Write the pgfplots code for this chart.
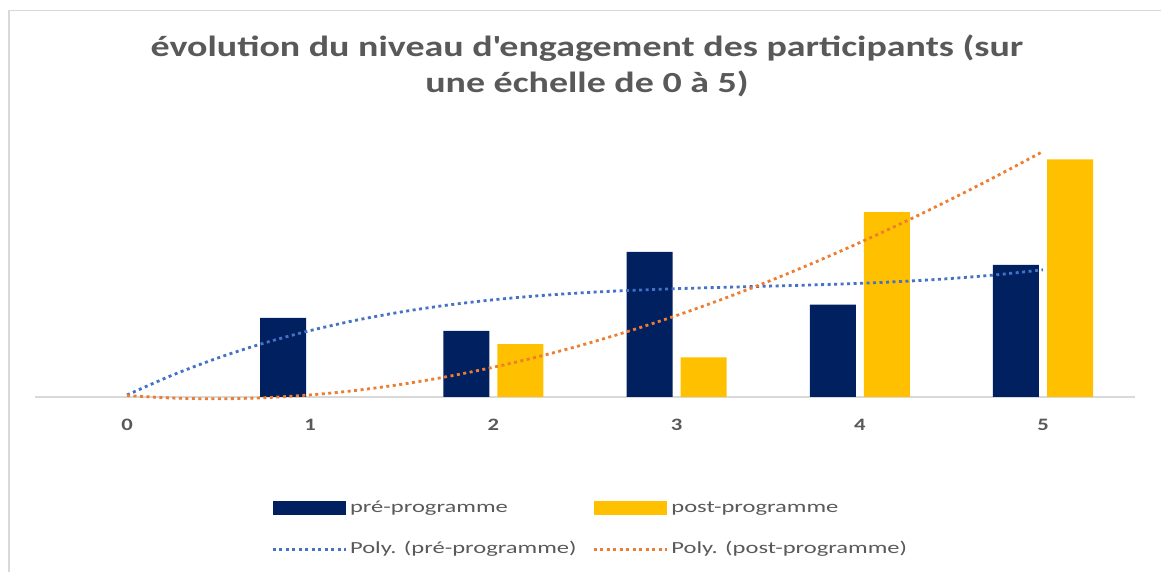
\documentclass[border=0pt]{standalone}
\usepackage{pgfplots}
\pgfplotsset{compat=1.18}
\usepackage{fontspec}
\setmainfont{Carlito}[FakeStretch=1.3]
\newfontfamily\legfont{Carlito}[FakeStretch=1.45]
\definecolor{navy}{HTML}{002060}
\definecolor{gold}{HTML}{FFC000}
\definecolor{tblue}{HTML}{4472C4}
\definecolor{torange}{HTML}{ED7D31}
\definecolor{txt}{HTML}{595959}
\definecolor{framec}{HTML}{D9D9D9}
\begin{document}
\begin{tikzpicture}[x=1bp,y=1bp]
\path[use as bounding box] (0,0) rectangle (1161,572);
\draw[framec, line width=1.5bp] (9,0) -- (9,561.5) -- (1161,561.5);
\node[anchor=base, text=txt, font=\fontsize{29.3}{35}\selectfont\bfseries, inner sep=0pt] at (587,515) {évolution du niveau d\textquotesingle engagement des participants (sur};
\node[anchor=base, text=txt, font=\fontsize{29.3}{35}\selectfont\bfseries, inner sep=0pt] at (587,479) {une échelle de 0 à 5)};
\begin{axis}[
  at={(35.4bp,175bp)}, anchor=south west,
  scale only axis, width=1099.2bp, height=257.4bp,
  xmin=-0.5, xmax=5.5, ymin=0, ymax=19.5,
  clip=false,
  axis y line=none,
  axis x line*=bottom,
  x axis line style={framec, line width=1.5bp, -},
  xtick={0,1,2,3,4,5},
  xticklabels={0,1,2,3,4,5},
  major tick length=0pt,
  xticklabel style={text=txt, font=\fontsize{17.5}{20}\selectfont\bfseries, yshift=-19bp},
  legend columns=2,
  legend cell align=left,
  legend style={at={(0.2144,-0.4002)}, anchor=north west, draw=none, fill=none,
    inner sep=0pt, font=\legfont\fontsize{17}{20}\selectfont, text=txt,
    cells={anchor=west},
    nodes={inner xsep=3bp, inner ysep=0pt, text height=12bp, text depth=4bp},
    row sep=25bp,
    /tikz/every even column/.append style={column sep=13bp}},
]
\addplot[ybar, bar width=0.251, bar shift=-0.1475, fill=navy, draw=none,
  legend image code/.code={\fill[navy] (0bp,-7bp) rectangle (73bp,7bp);}]
  coordinates {(1,6) (2,5) (3,11) (4,7) (5,10)};
\addlegendentry{pré-programme}
\addplot[ybar, bar width=0.251, bar shift=0.1475, fill=gold, draw=none,
  legend image code/.code={\fill[gold] (0bp,-7bp) rectangle (73bp,7bp);}]
  coordinates {(2,4) (3,3) (4,14) (5,18)};
\addlegendentry{post-programme}
\addplot[tblue, line width=2.8bp, dash pattern=on 3bp off 3.5bp, smooth, no marks,
  legend image code/.code={\draw[tblue, line width=2.8bp, dash pattern=on 3bp off 3.5bp] (0bp,0bp) -- (73bp,0bp);}]
  coordinates {(0,0.151) (0.25,1.668) (0.5,2.976) (0.75,4.092) (1,5.032) (1.25,5.813) (1.5,6.451) (1.75,6.963) (2,7.365) (2.25,7.674) (2.5,7.906) (2.75,8.078) (3,8.206) (3.25,8.307) (3.5,8.397) (3.75,8.493) (4,8.611) (4.25,8.768) (4.5,8.980) (4.75,9.263) (5,9.635)};
\addlegendentry{Poly. (pré-programme)}
\addplot[torange, line width=2.8bp, dash pattern=on 3bp off 3.5bp, smooth, no marks,
  legend image code/.code={\draw[torange, line width=2.8bp, dash pattern=on 3bp off 3.5bp] (0bp,0bp) -- (73bp,0bp);}]
  coordinates {(0,0.111) (0.25,-0.081) (0.5,-0.135) (0.75,-0.054) (1,0.159) (1.25,0.499) (1.5,0.964) (1.75,1.550) (2,2.254) (2.25,3.072) (2.5,4.000) (2.75,5.036) (3,6.175) (3.25,7.414) (3.5,8.750) (3.75,10.179) (4,11.698) (4.25,13.304) (4.5,14.992) (4.75,16.760) (5,18.603)};
\addlegendentry{Poly. (post-programme)}
\end{axis}
\end{tikzpicture}
\end{document}
